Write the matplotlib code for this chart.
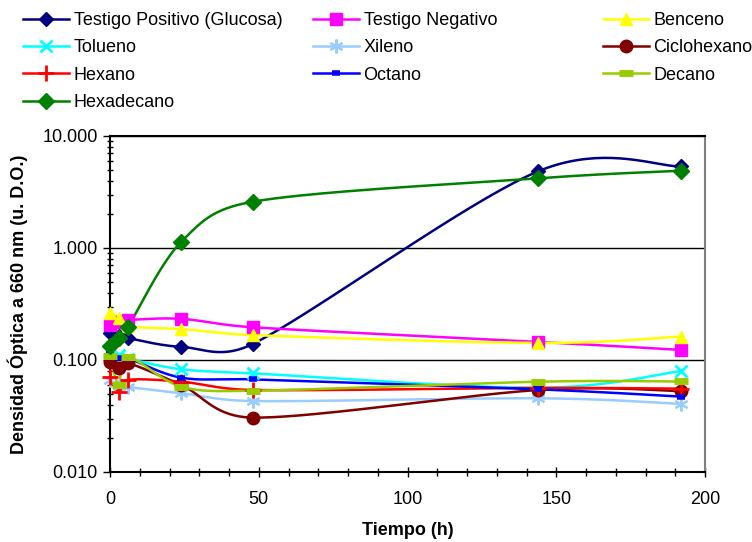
import numpy as np
import matplotlib
matplotlib.use("Agg")
import matplotlib.pyplot as plt
from matplotlib.ticker import FixedLocator, LogLocator, NullFormatter, MultipleLocator
from matplotlib.lines import Line2D

plt.rcParams['font.family'] = ['Liberation Sans', 'DejaVu Sans']

tiempo = [0, 3, 6, 24, 48, 144, 192]

series_names = ["Testigo Positivo (Glucosa)", "Testigo Negativo", "Benceno",
                "Tolueno", "Xileno", "Ciclohexano",
                "Hexano", "Octano", "Decano", "Hexadecano"]

testigo_positivo = [0.175, 0.165, 0.157, 0.131, 0.139, 4.85, 5.35]
testigo_negativo = [0.205, 0.220, 0.228, 0.233, 0.196, 0.145, 0.123]
benceno = [0.263, 0.237, 0.200, 0.189, 0.167, 0.142, 0.162]
tolueno = [0.120, 0.110, 0.103, 0.0826, 0.076, 0.0565, 0.0798]
xileno = [0.0663, 0.058, 0.0574, 0.0505, 0.043, 0.0455, 0.0405]
ciclohexano = [0.0955, 0.0852, 0.094, 0.0598, 0.0306, 0.054, 0.0528]
hexano = [0.0705, 0.0518, 0.0663, 0.064, 0.054, 0.0563, 0.0555]
octano = [0.1155, 0.104, 0.104, 0.0695, 0.0671, 0.0547, 0.0471]
decano = [0.1086, 0.0598, 0.106, 0.0578, 0.0532, 0.064, 0.0643]
hexadecano = [0.133, 0.157, 0.197, 1.14, 2.59, 4.19, 4.90]

valores = [testigo_positivo, testigo_negativo, benceno, tolueno, xileno,
           ciclohexano, hexano, octano, decano, hexadecano]

y_ticks = [0.01, 0.1, 1, 10]
y_tick_labels = ["0.010", "0.100", "1.000", "10.000"]
x_ticks = [0, 50, 100, 150, 200]

estilos = [
    dict(color="#000080", marker="D", ms=7, mew=1),
    dict(color="#FF00FF", marker="s", ms=8, mew=1),
    dict(color="#FFFF00", marker="^", ms=9, mew=1),
    dict(color="#00FFFF", marker="x", ms=8, mew=2),
    dict(color="#99CCFF", marker=(6, 2, 0), ms=10, mew=1.5),
    dict(color="#800000", marker="o", ms=9, mew=1),
    dict(color="#FF0000", marker="+", ms=11, mew=2),
    dict(color="#0000FF", marker="_", ms=6, mew=4),
    dict(color="#99CC00", marker="_", ms=10, mew=5),
    dict(color="#008000", marker="D", ms=8, mew=1),
]

W, H = 752, 542
fig = plt.figure(figsize=(W / 100, H / 100), dpi=100)
ax = fig.add_axes([110 / W, 70 / H, 595 / W, 336 / H])
ax.set_yscale("log")
ax.set_xlim(0, 200)
ax.set_ylim(0.01, 10)


def _limitar(t, lim):
    n = np.hypot(*t)
    if n > lim and n > 0:
        return t * (lim / n)
    return t


def suavizar(ax, x, y, n=40):
    pts = ax.transData.transform(np.column_stack([x, y]))
    out = []
    m = len(pts)
    for i in range(m - 1):
        p0 = pts[i - 1] if i > 0 else pts[i]
        p1 = pts[i]
        p2 = pts[i + 1]
        p3 = pts[i + 2] if i + 2 < m else pts[i + 1]
        d12 = np.hypot(*(p2 - p1))
        t1 = _limitar((p2 - p0) / 6.0, d12 / 2.0)
        t2 = _limitar((p3 - p1) / 6.0, d12 / 2.0)
        c1 = p1 + t1
        c2 = p2 - t2
        u = np.linspace(0, 1, n)[:, None]
        seg = ((1 - u) ** 3) * p1 + 3 * ((1 - u) ** 2) * u * c1 + 3 * (1 - u) * (u ** 2) * c2 + (u ** 3) * p2
        out.append(seg if i == 0 else seg[1:])
    d = np.vstack(out)
    r = ax.transData.inverted().transform(d)
    return r[:, 0], r[:, 1]


ax.yaxis.grid(True, which="major", color="black", linewidth=1)
ax.set_axisbelow(True)

handles = []
for nombre, vals, st in zip(series_names, valores, estilos):
    sx, sy = suavizar(ax, tiempo, vals)
    ax.plot(sx, sy, color=st["color"], lw=1.8, zorder=3, clip_on=False)
    ax.plot(tiempo, vals, linestyle="none", marker=st["marker"], ms=st["ms"],
            mew=st["mew"], color=st["color"], mec=st["color"], zorder=4, clip_on=False)
    handles.append(Line2D([], [], color=st["color"], lw=1.8, marker=st["marker"],
                          ms=st["ms"], mew=st["mew"], mec=st["color"], label=nombre))

ax.yaxis.set_major_locator(FixedLocator(y_ticks))
ax.set_yticklabels(y_tick_labels)
ax.yaxis.set_minor_locator(LogLocator(base=10, subs=np.arange(2, 10)))
ax.yaxis.set_minor_formatter(NullFormatter())
ax.xaxis.set_major_locator(FixedLocator(x_ticks))
ax.xaxis.set_minor_locator(MultipleLocator(10))

ax.tick_params(axis="y", which="major", direction="out", length=5, width=1, labelsize=13, pad=4)
ax.tick_params(axis="y", which="minor", direction="inout", length=5, width=1)
ax.tick_params(axis="x", which="major", direction="inout", length=7, width=1, labelsize=13, pad=10)
ax.tick_params(axis="x", which="minor", direction="inout", length=6, width=1)

for s in ["left", "bottom", "top"]:
    ax.spines[s].set_color("black")
    ax.spines[s].set_linewidth(1.5)
ax.spines["right"].set_color("#808080")
ax.spines["right"].set_linewidth(1.5)

ax.set_xlabel("Tiempo (h)", fontsize=13, fontweight="bold", labelpad=10)
ax.set_ylabel("Densidad Óptica a 660 nm (u. D.O.)", fontsize=13, fontweight="bold", labelpad=10)

columnas = [[0, 3, 6, 9], [1, 4, 7], [2, 5, 8]]
col_x = [23, 313, 603]
for cols, cx in zip(columnas, col_x):
    fig.legend(handles=[handles[i] for i in cols], loc="upper left",
               bbox_to_anchor=(cx / W, 1 - 12 / H), frameon=False, fontsize=13,
               handlelength=2.55, handletextpad=0.25, labelspacing=0.57,
               borderpad=0, borderaxespad=0)

fig.savefig("out.png", dpi=100)
